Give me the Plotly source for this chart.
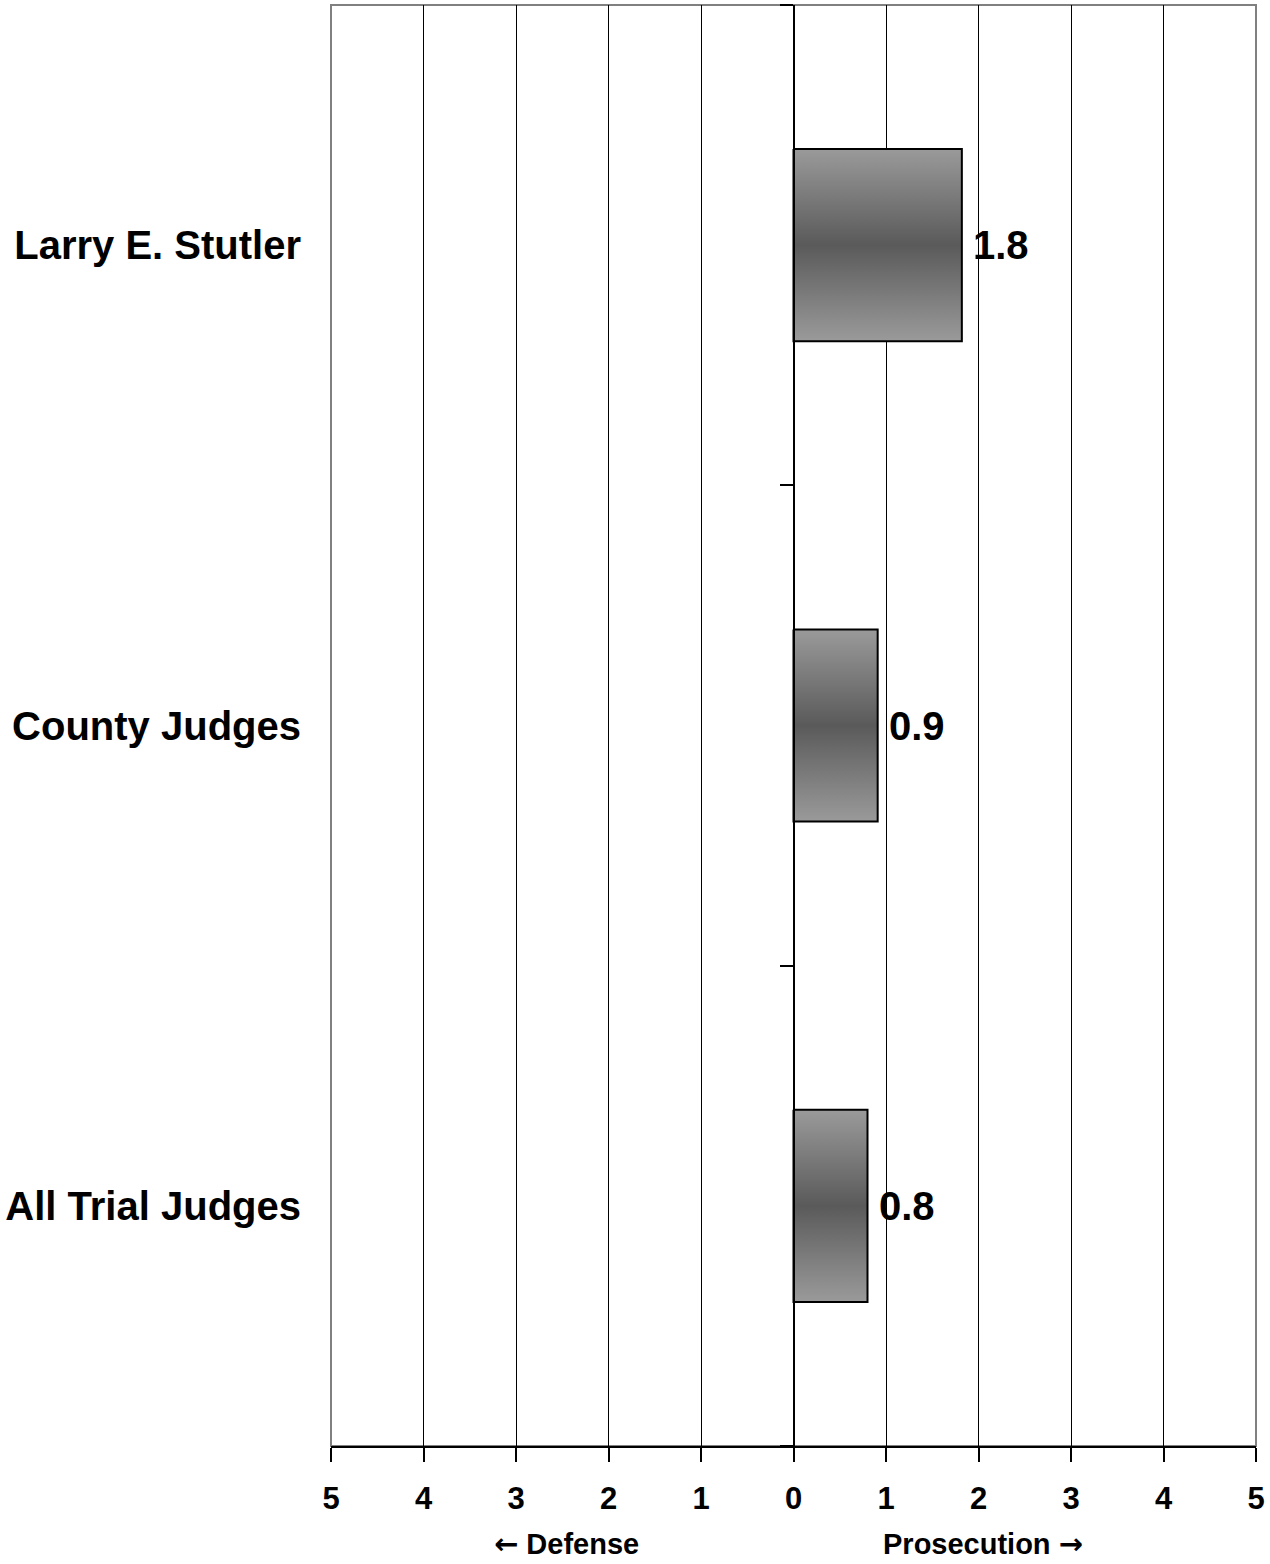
import plotly.graph_objects as go

categories = ["Larry E. Stutler", "County Judges", "All Trial Judges"]
values = [1.82, 0.91, 0.80]
value_labels = ["1.8", "0.9", "0.8"]
x_tickvals = [-5, -4, -3, -2, -1, 0, 1, 2, 3, 4, 5]
x_ticktext = ["5", "4", "3", "2", "1", "0", "1", "2", "3", "4", "5"]
direction_labels = ["<span style='font-family:DejaVu Sans'>\u2190</span> Defense",
                    "Prosecution <span style='font-family:DejaVu Sans'>\u2192</span>"]
direction_pos = [-2.45, 2.05]

FONT = "Liberation Sans, Arial, sans-serif"
BAR_HALF = 0.2
W, H = 1270, 1564
M_L, M_R, M_T, M_B = 329, 9, 5, 118

fig = go.Figure()

# gradient-filled bars, one polygon per category, built from the values
for i, v in enumerate(values):
    fig.add_trace(go.Scatter(
        x=[0, v, v, 0, 0],
        y=[i - BAR_HALF, i - BAR_HALF, i + BAR_HALF, i + BAR_HALF, i - BAR_HALF],
        mode="lines",
        fill="toself",
        fillgradient=dict(type="vertical",
                          colorscale=[[0, "#9a9a9a"], [0.5, "#5a5a5a"], [1, "#9a9a9a"]]),
        line=dict(color="black", width=2),
        hoverinfo="skip",
        showlegend=False,
    ))

# value labels
for i, (v, lbl) in enumerate(zip(values, value_labels)):
    fig.add_annotation(x=v, y=i, xref="x", yref="y", text=lbl, showarrow=False,
                       xanchor="left", yanchor="middle", xshift=9,
                       font=dict(family=FONT, size=40, color="black", weight="bold"))

# invisible trace for the zero axis with category boundary ticks
fig.add_trace(go.Scatter(x=[0], y=[0], yaxis="y2", mode="markers",
                         marker=dict(opacity=0), hoverinfo="skip", showlegend=False))

plot_h = H - M_T - M_B
for lbl, xp in zip(direction_labels, direction_pos):
    fig.add_annotation(x=xp, xref="x", y=-(1544 - (H - M_B)) / plot_h, yref="paper",
                       yanchor="middle", text=lbl, showarrow=False,
                       font=dict(family=FONT, size=29, color="black", weight="bold"))

fig.add_shape(type="rect", xref="paper", yref="paper", x0=0, x1=1, y0=0, y1=1,
              line=dict(color="#808080", width=2), layer="below")

fig.update_layout(
    width=W, height=H,
    margin=dict(l=M_L, r=M_R, t=M_T, b=M_B),
    plot_bgcolor="white", paper_bgcolor="white",
    xaxis=dict(
        range=[-5, 5],
        tickvals=x_tickvals, ticktext=x_ticktext,
        showgrid=True, gridcolor="black", gridwidth=1,
        zeroline=False,
        showline=True, linecolor="black", linewidth=2,
        ticks="outside", ticklen=14, tickwidth=2, tickcolor="black",
        ticklabelstandoff=10,
        tickfont=dict(family=FONT, size=31, color="black", weight="bold"),
    ),
    yaxis=dict(
        range=[2.5, -0.5],
        tickvals=list(range(len(categories))), ticktext=categories,
        showgrid=False, zeroline=False, showline=False, ticks="",
        ticklabelstandoff=29,
        tickfont=dict(family=FONT, size=40, color="black", weight="bold"),
    ),
    yaxis2=dict(
        range=[2.5, -0.5], overlaying="y", anchor="free", position=0.5, side="left",
        tickvals=[-0.5, 0.5, 1.5, 2.5], showticklabels=False,
        showgrid=False, zeroline=False,
        showline=True, linecolor="black", linewidth=2,
        ticks="outside", ticklen=13, tickwidth=2, tickcolor="black",
    ),
)

fig.write_html("out.html", config={"displayModeBar": False},
               post_script="document.body.style.margin='0';document.body.style.padding='0';")
